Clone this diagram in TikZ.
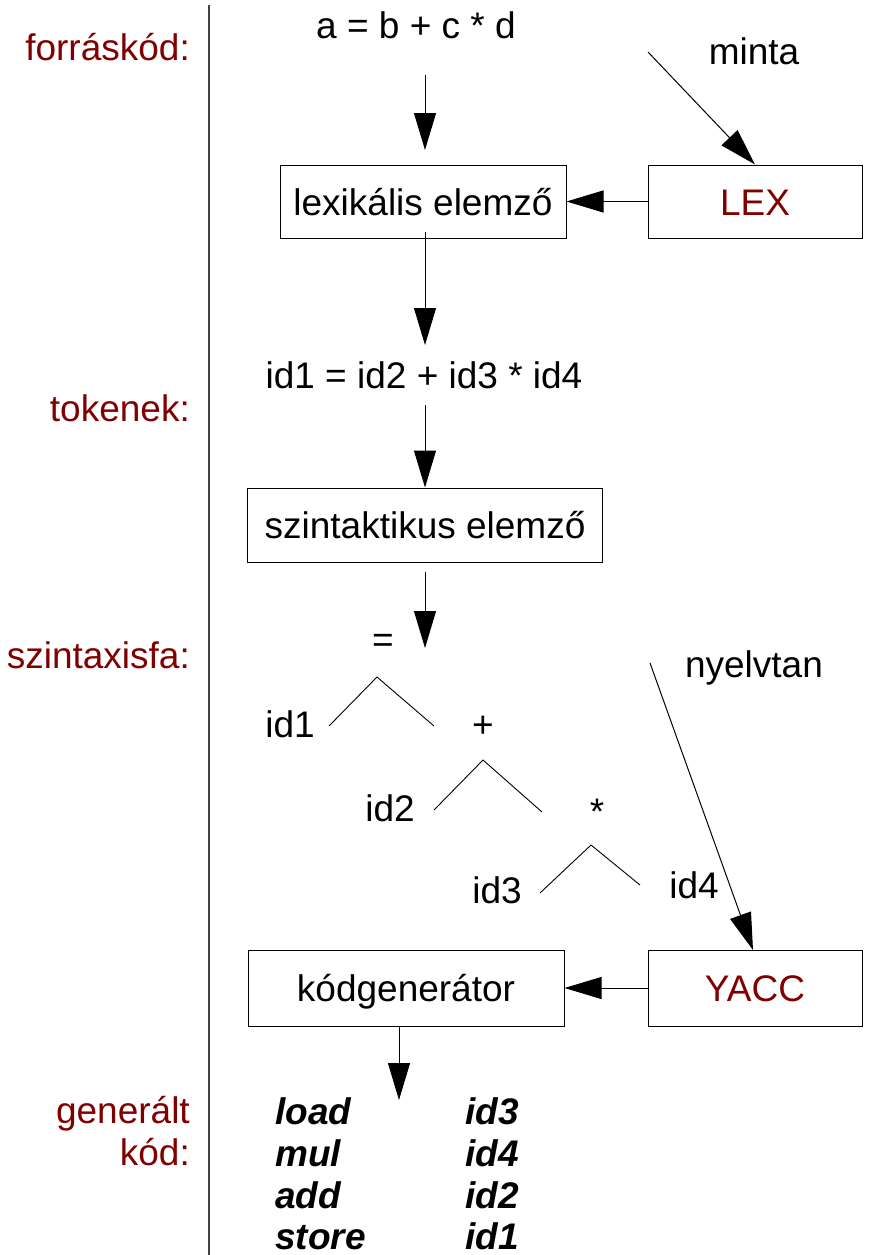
\documentclass[tikz,border=0pt]{standalone}
\usepackage{fontspec}
\setmainfont{Liberation Sans}
\usetikzlibrary{arrows.meta}
\definecolor{darkred}{HTML}{800000}
\begin{document}
\begin{tikzpicture}[x=1pt,y=-1pt,
  every node/.style={font=\fontsize{37}{44}\selectfont, inner sep=0pt},
  lbl/.style={anchor=base east, text=darkred},
  txt/.style={anchor=base},
  code/.style={anchor=base west, text depth=0pt, font=\fontsize{37}{44}\selectfont\bfseries\itshape},
  stage/.style={draw=black, line width=1pt, text height=27pt, text depth=0pt},
  tool/.style={stage, text=darkred},
  arr/.style={line width=1pt, -{Triangle[length=37pt,width=22pt]}},
  branch/.style={line width=0.9pt}]
\useasboundingbox (0,0) rectangle (868,1255);

% separator between the labels and the pipeline
\draw[line width=1.5pt, draw=black!75] (209,5) -- (209,1255);

% labels on the left
\node[lbl] (Lsrc) at (190,61) {forráskód:};
\node[lbl] (Ltok) at (190,421) {tokenek:};
\node[lbl] (Ltree) at (190,668) {szintaxisfa:};
\node[lbl] (Lgen) at (190,1123) {generált};
\node[lbl] (Lkod) at (190,1165) {kód:};

% source and tokens
\node[txt] (src) at (416,38) {a = b + c * d};
\node[txt] (minta) at (754,65) {minta};
\node[txt] (tok) at (424,388) {id1 = id2 + id3 * id4};
\node[txt] (nyelv) at (754,677) {nyelvtan};

% processing stages
\node[stage, minimum width=286pt, minimum height=73pt] (lex) at (423,201.5) {lexikális elemző};
\node[tool, minimum width=214pt, minimum height=73pt] (LEX) at (755,201.5) {LEX};
\node[stage, minimum width=355pt, minimum height=74pt] (szint) at (425,525) {szintaktikus elemző};
\node[stage, minimum width=316pt, minimum height=76pt] (kgen) at (406,988) {kódgenerátor};
\node[tool, minimum width=214pt, minimum height=76pt] (YACC) at (755,988) {YACC};

% syntax tree
\node[txt] (eq) at (383,652) {=};
\node[txt] (t1) at (290,737) {id1};
\node[txt] (plus) at (483,737) {+};
\node[txt] (t2) at (390,821) {id2};
\node[txt] (star) at (597,824) {*};
\node[txt] (t3) at (497,903) {id3};
\node[txt] (t4) at (694,898) {id4};
\draw[branch] (329,726) -- (377,677) -- (434,726);
\draw[branch] (434,810) -- (483,760) -- (542,812);
\draw[branch] (540,893) -- (591,845) -- (640,885);

% generated code
\node[code] (c1) at (275,1124) {load};
\node[code] (c2) at (275,1166) {mul};
\node[code] (c3) at (275,1208) {add};
\node[code] (c4) at (275,1249) {store};
\node[code] (d1) at (465,1124) {id3};
\node[code] (d2) at (465,1166) {id4};
\node[code] (d3) at (465,1208) {id2};
\node[code] (d4) at (465,1249) {id1};

% arrow end points
\coordinate (s1) at (425,75);
\coordinate (e1) at (425,150);
\coordinate (s2) at (425,232);
\coordinate (e2) at (425,345);
\coordinate (s3) at (425,405);
\coordinate (s4) at (425,572);
\coordinate (e4) at (425,648);
\coordinate (s5) at (399,1026);
\coordinate (e5) at (399,1100);
\coordinate (sm) at (648,52);
\coordinate (sn) at (650,663);

% flow
\draw[arr] (s1) -- (e1);
\draw[arr] (s2) -- (e2);
\draw[arr] (s3) -- (s3 |- szint.north);
\draw[arr] (s4) -- (e4);
\draw[arr] (s5) -- (e5);
\draw[arr] (LEX.west) -- (lex.east);
\draw[arr] (YACC.west) -- (kgen.east);
\draw[arr] (sm) -- (LEX.north);
\draw[arr] (sn) -- (753,950);
\end{tikzpicture}
\end{document}
